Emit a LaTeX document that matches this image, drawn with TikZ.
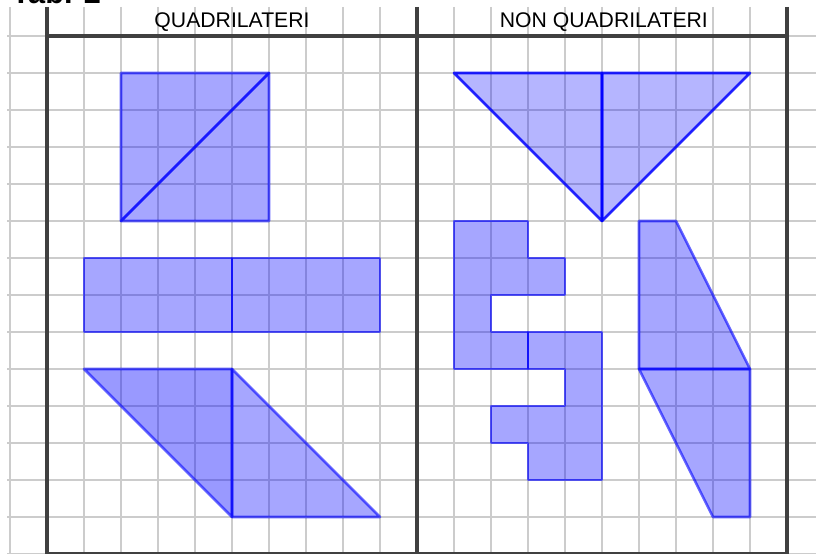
\documentclass[tikz,border=0pt]{standalone}
\usepackage{fontspec}
\setmainfont{Liberation Sans}
\begin{document}
\begin{tikzpicture}[x=1cm,y=-1cm,
  gridline/.style={draw=black!20, line width=1.1pt},
  frameline/.style={draw=black!75, line width=3pt},
  polyL/.style={fill=blue, fill opacity=0.35, draw=blue, draw opacity=0.6, line width=2pt, line join=round},
  polyD/.style={fill=blue, fill opacity=0.40, draw=blue, draw opacity=0.6, line width=2pt, line join=round},
  polyT/.style={fill=blue, fill opacity=0.29, draw=blue, draw opacity=0.85, line width=2pt, line join=round},
  header/.style={font=\fontsize{16.3}{17}\selectfont, inner sep=0, anchor=base}]
\useasboundingbox (-1.2703,-0.973) rectangle (20.7838,14.0);
% grid
\foreach \r in {0,...,14} \draw[gridline] (-1.08,\r) -- (20.79,\r);
\foreach \c in {-1,...,20} \draw[gridline] (\c,-0.784) -- (\c,14.05);
% frame
\foreach \c in {0,10,20} \draw[frameline] (\c,-0.784) -- (\c,14.05);
\draw[frameline] (0,0) -- (20,0);
\draw[frameline] (0,14) -- (20,14);
% texts
\node[anchor=base west, font=\bfseries\fontsize{23.6}{24}\selectfont, inner sep=0] (title) at (-0.96,-0.865) {Tab. 2};
\node[header] (h1) at (5,-0.23) {QUADRILATERI};
\node[header] (h2) at (15.05,-0.23) {NON QUADRILATERI};
% left panel
\filldraw[polyL] (2,1) -- (6,1) -- (2,5) -- cycle;
\filldraw[polyL] (6,1) -- (6,5) -- (2,5) -- cycle;
\filldraw[polyL] (1,6) -- (5,6) -- (5,8) -- (1,8) -- cycle;
\filldraw[polyL] (5,6) -- (9,6) -- (9,8) -- (5,8) -- cycle;
\filldraw[polyD] (1,9) -- (5,9) -- (5,13) -- cycle;
\filldraw[polyL] (5,9) -- (9,13) -- (5,13) -- cycle;
% right panel
\filldraw[polyT] (11,1) -- (15,1) -- (15,5) -- cycle;
\filldraw[polyT] (15,1) -- (19,1) -- (15,5) -- cycle;
\filldraw[polyL] (11,5) -- (13,5) -- (13,6) -- (14,6) -- (14,7) -- (12,7) -- (12,8) -- (13,8) -- (13,9) -- (11,9) -- cycle;
\filldraw[polyL] (13,8) -- (15,8) -- (15,12) -- (13,12) -- (13,11) -- (12,11) -- (12,10) -- (14,10) -- (14,9) -- (13,9) -- cycle;
\filldraw[polyL] (16,5) -- (17,5) -- (19,9) -- (16,9) -- cycle;
\filldraw[polyL] (16,9) -- (19,9) -- (19,13) -- (18,13) -- cycle;
\end{tikzpicture}
\end{document}
